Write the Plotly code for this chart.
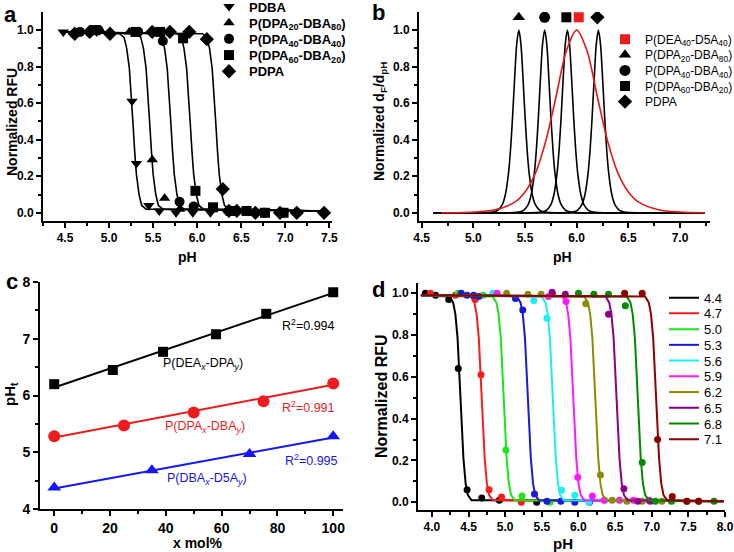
import plotly.graph_objects as go

W, H = 734, 552
FONT = "Arial, Liberation Sans, sans-serif"

# ---------------- Panel a : normalized RFU vs pH ----------------
a_names = ["PDBA", "P(DPA<sub>20</sub>-DBA<sub>80</sub>)", "P(DPA<sub>40</sub>-DBA<sub>40</sub>)",
           "P(DPA<sub>60</sub>-DBA<sub>20</sub>)", "PDPA"]
a_symbols = ["triangle-down", "triangle-up", "circle", "square", "diamond"]

a_pdba_x = [4.48, 4.86, 5.26, 5.31, 5.45, 5.57, 5.76, 5.95, 6.15]
a_pdba_y = [0.99, 0.99, 0.61, 0.27, 0.04, 0.01, 0.0, 0.0, 0.0]
a_dpa20_x = [4.90, 5.23, 5.49, 5.63, 5.80, 6.36]
a_dpa20_y = [1.0, 0.99, 0.29, 0.08, 0.02, 0.01]
a_dpa40_x = [4.67, 4.88, 5.33, 5.61, 5.80, 5.96, 6.36, 6.76, 6.98]
a_dpa40_y = [0.99, 1.0, 0.99, 0.94, 0.06, 0.035, 0.01, 0.0, 0.0]
a_dpa60_x = [4.84, 5.30, 5.58, 5.84, 5.98, 6.18, 6.38, 6.56, 6.77, 6.98]
a_dpa60_y = [1.0, 0.99, 0.99, 0.955, 0.12, 0.03, 0.01, 0.01, 0.0, 0.0]
a_pdpa_x = [4.61, 4.78, 5.01, 5.49, 5.69, 5.91, 6.11, 6.29, 6.36, 6.45, 6.66, 6.94, 7.13, 7.44]
a_pdpa_y = [0.98, 0.99, 0.98, 0.99, 0.99, 0.99, 0.95, 0.13, 0.01, 0.01, 0.0, 0.0, 0.0, 0.0]

# fitted sigmoid curves
a_fit_y = [0.99, 0.98, 0.96, 0.90, 0.79, 0.66, 0.50, 0.34, 0.21, 0.10, 0.04, 0.02, 0.01]
a_fit_pdba_x = [4.45, 5.12, 5.17, 5.20, 5.23, 5.25, 5.27, 5.29, 5.31, 5.34, 5.37, 5.42, 7.45]
a_fit_dpa20_x = [4.45, 5.31, 5.36, 5.39, 5.42, 5.44, 5.46, 5.48, 5.50, 5.53, 5.56, 5.61, 7.45]
a_fit_dpa40_x = [4.45, 5.55, 5.60, 5.63, 5.66, 5.68, 5.70, 5.72, 5.74, 5.77, 5.80, 5.85, 7.45]
a_fit_dpa60_x = [4.45, 5.77, 5.82, 5.85, 5.88, 5.90, 5.92, 5.94, 5.96, 5.99, 6.02, 6.07, 7.45]
a_fit_pdpa_x = [4.45, 6.06, 6.11, 6.14, 6.17, 6.19, 6.21, 6.23, 6.25, 6.28, 6.31, 6.36, 7.45]

# ---------------- Panel b : derivative peaks ----------------
b_names = ["P(DEA<sub>40</sub>-D5A<sub>40</sub>)", "P(DPA<sub>20</sub>-DBA<sub>80</sub>)",
           "P(DPA<sub>40</sub>-DBA<sub>40</sub>)", "P(DPA<sub>60</sub>-DBA<sub>20</sub>)", "PDPA"]
b_symbols = ["square", "triangle-up", "circle", "square", "diamond"]
b_colors = ["#ee1c1c", "black", "black", "black", "black"]
b_marker_x = [6.02, 5.44, 5.69, 5.90, 6.20]
b_marker_y = [1.07, 1.07, 1.07, 1.07, 1.07]

b_peak_y = [0, 0.001, 0.004, 0.015, 0.044, 0.10, 0.216, 0.348, 0.53, 0.742, 0.926, 1.0,
            0.926, 0.742, 0.53, 0.348, 0.216, 0.10, 0.044, 0.015, 0.004, 0.001, 0]
b_peak_dpa20_x = [4.61, 5.14, 5.19, 5.24, 5.28, 5.31, 5.34, 5.36, 5.38, 5.40, 5.42, 5.44,
                  5.46, 5.48, 5.50, 5.52, 5.54, 5.57, 5.60, 5.64, 5.69, 5.74, 7.24]
b_peak_dpa40_x = [4.61, 5.39, 5.44, 5.49, 5.53, 5.56, 5.59, 5.61, 5.63, 5.65, 5.67, 5.69,
                  5.71, 5.73, 5.75, 5.77, 5.79, 5.82, 5.85, 5.89, 5.94, 5.99, 7.24]
b_peak_dpa60_x = [4.61, 5.61, 5.66, 5.71, 5.75, 5.78, 5.81, 5.83, 5.85, 5.87, 5.89, 5.91,
                  5.93, 5.95, 5.97, 5.99, 6.01, 6.04, 6.07, 6.11, 6.16, 6.21, 7.24]
b_peak_pdpa_x = [4.61, 5.91, 5.96, 6.01, 6.05, 6.08, 6.11, 6.13, 6.15, 6.17, 6.19, 6.21,
                 6.23, 6.25, 6.27, 6.29, 6.31, 6.34, 6.37, 6.41, 6.46, 6.51, 7.24]
b_red_x = [4.69, 4.90, 5.20, 5.40, 5.50, 5.60, 5.70, 5.80, 5.90, 6.00, 6.10, 6.20, 6.30,
           6.40, 6.50, 6.60, 6.80, 7.00, 7.24]
b_red_y = [0, 0.001, 0.015, 0.058, 0.114, 0.216, 0.39, 0.635, 0.887, 1.0, 0.887, 0.635,
           0.39, 0.216, 0.114, 0.058, 0.015, 0.004, 0]

# ---------------- Panel c : pHt vs composition ----------------
c_dea_x = [0, 21, 39, 58, 76, 100]
c_dea_y = [6.20, 6.45, 6.77, 7.08, 7.44, 7.82]
c_dpa_x = [0, 25, 50, 75, 100]
c_dpa_y = [5.28, 5.47, 5.70, 5.90, 6.21]
c_dba_x = [0, 35, 70, 100]
c_dba_y = [4.38, 4.68, 4.97, 5.28]
c_fit_x = [0, 100]
c_fit_dea_y = [6.14, 7.81]
c_fit_dpa_y = [5.26, 6.19]
c_fit_dba_y = [4.36, 5.26]

# ---------------- Panel d : 10 sensors ----------------
d_labels = ["4.4", "4.7", "5.0", "5.3", "5.6", "5.9", "6.2", "6.5", "6.8", "7.1"]
d_colors = ["#000000", "#ff1a1a", "#19e619", "#1a1ad9", "#19f0f0", "#ff19ff",
            "#8c8c00", "#8c008c", "#008c00", "#8c0000"]
d_pts_x = [
    [3.91, 4.05, 4.23, 4.36, 4.48, 4.68, 4.92, 5.43],
    [3.98, 4.32, 4.59, 4.67, 4.78, 4.95, 5.22],
    [4.36, 4.70, 5.01, 5.23, 5.61],
    [4.40, 4.48, 4.57, 4.64, 5.14, 5.24, 5.40, 5.57, 5.76, 5.95, 6.15],
    [4.83, 5.39, 5.57, 5.77, 5.95, 6.14, 6.36],
    [4.89, 5.59, 5.83, 5.99, 6.19, 6.35, 6.56, 6.75, 6.96],
    [5.02, 5.31, 5.49, 5.65, 6.10, 6.30, 6.46, 6.66, 6.87, 7.14],
    [5.64, 5.82, 6.41, 6.62, 6.81, 6.98],
    [6.00, 6.21, 6.41, 6.64, 6.87, 7.05, 7.27, 7.48, 7.64, 7.85],
    [6.63, 6.87, 7.08, 7.28, 7.48, 7.64],
]
d_pts_y = [
    [1.0, 0.99, 0.97, 0.64, 0.06, 0.02, 0.01, 0.0],
    [1.0, 0.99, 0.97, 0.61, 0.06, 0.025, 0.0],
    [1.0, 0.99, 0.25, 0.03, 0.0],
    [1.0, 0.99, 0.99, 0.985, 0.975, 0.92, 0.04, 0.005, 0.005, 0.0, 0.0],
    [1.0, 0.965, 0.88, 0.057, 0.033, 0.0, 0.01],
    [1.0, 0.985, 0.96, 0.12, 0.03, 0.01, 0.01, 0.01, 0.01],
    [1.0, 0.995, 0.995, 0.995, 0.95, 0.13, 0.01, 0.005, 0.005, 0.005],
    [1.005, 0.995, 0.90, 0.065, 0.005, 0.005],
    [1.0, 0.995, 0.995, 0.94, 0.19, 0.005, 0.005, 0.005, 0.005, 0.005],
    [1.0, 1.0, 0.30, 0.027, 0.005, 0.005],
]
d_fit_y = [0.99, 0.985, 0.955, 0.90, 0.785, 0.655, 0.50, 0.34, 0.21, 0.09, 0.035, 0.01, 0.005]
d_fit_x = [
    [3.85, 4.24, 4.29, 4.32, 4.35, 4.37, 4.39, 4.41, 4.43, 4.46, 4.49, 4.54, 7.98],
    [3.85, 4.53, 4.58, 4.61, 4.64, 4.66, 4.68, 4.70, 4.72, 4.75, 4.78, 4.83, 7.98],
    [3.85, 4.83, 4.88, 4.91, 4.94, 4.96, 4.98, 5.00, 5.02, 5.05, 5.08, 5.13, 7.98],
    [3.85, 5.16, 5.21, 5.24, 5.27, 5.29, 5.31, 5.33, 5.35, 5.38, 5.41, 5.46, 7.98],
    [3.85, 5.50, 5.55, 5.58, 5.61, 5.63, 5.65, 5.67, 5.69, 5.72, 5.75, 5.80, 7.98],
    [3.85, 5.78, 5.83, 5.86, 5.89, 5.91, 5.93, 5.95, 5.97, 6.00, 6.03, 6.08, 7.98],
    [3.85, 6.08, 6.13, 6.16, 6.19, 6.21, 6.23, 6.25, 6.27, 6.30, 6.33, 6.38, 7.98],
    [3.85, 6.37, 6.42, 6.45, 6.48, 6.50, 6.52, 6.54, 6.56, 6.59, 6.62, 6.67, 7.98],
    [3.85, 6.66, 6.71, 6.74, 6.77, 6.79, 6.81, 6.83, 6.85, 6.88, 6.91, 6.96, 7.98],
    [3.85, 6.91, 6.96, 6.99, 7.02, 7.04, 7.06, 7.08, 7.10, 7.13, 7.16, 7.21, 7.98],
]

# legend entry rows (pixel rows of each legend entry)
a_legend_rows = [6.5, 22.7, 38.9, 55.1, 71.3]
b_legend_rows = [39.2, 54.8, 70.4, 86.0, 101.6]
d_legend_rows = [297.7, 313.4, 329.2, 344.9, 360.6, 376.4, 392.1, 407.8, 423.6, 439.3]

# ---------------------------------------------------------------
fig = go.Figure()
legend_layout = {}
leg_counter = [0]


def new_legend(left_px, row_px, font):
    leg_counter[0] += 1
    k = leg_counter[0]
    lid = "legend" if k == 1 else "legend%d" % k
    legend_layout[lid] = dict(x=left_px / W, y=1 - row_px / H, xanchor="left", yanchor="middle",
                              bgcolor="rgba(0,0,0,0)", borderwidth=0, font=font,
                              tracegroupgap=0, itemwidth=30)
    return lid


font_a = dict(family=FONT, size=13, color="black", weight="bold")
font_b = dict(family=FONT, size=12, color="black")
font_d = dict(family=FONT, size=13, color="black")

# Panel a
a_pts = [(a_pdba_x, a_pdba_y), (a_dpa20_x, a_dpa20_y), (a_dpa40_x, a_dpa40_y),
         (a_dpa60_x, a_dpa60_y), (a_pdpa_x, a_pdpa_y)]
a_fits = [a_fit_pdba_x, a_fit_dpa20_x, a_fit_dpa40_x, a_fit_dpa60_x, a_fit_pdpa_x]
for fx in a_fits:
    fig.add_trace(go.Scatter(x=fx, y=a_fit_y, mode="lines", line=dict(color="black", width=1.6),
                             xaxis="x", yaxis="y", showlegend=False, hoverinfo="skip"))
for i, ((px, py), nm, sym) in enumerate(zip(a_pts, a_names, a_symbols)):
    lid = new_legend(209, a_legend_rows[i], font_a)
    fig.add_trace(go.Scatter(x=px, y=py, mode="markers", name=nm,
                             marker=dict(symbol=sym, size=10 if sym != "diamond" else 11, color="black"),
                             xaxis="x", yaxis="y", legend=lid))

# Panel b
for bx in [b_peak_dpa20_x, b_peak_dpa40_x, b_peak_dpa60_x, b_peak_pdpa_x]:
    fig.add_trace(go.Scatter(x=bx, y=b_peak_y, mode="lines",
                             line=dict(color="black", width=1.6, shape="spline", smoothing=0.8),
                             xaxis="x2", yaxis="y2", showlegend=False, hoverinfo="skip"))
fig.add_trace(go.Scatter(x=b_red_x, y=b_red_y, mode="lines",
                         line=dict(color="#e41a1a", width=1.6, shape="spline", smoothing=0.8),
                         xaxis="x2", yaxis="y2", showlegend=False, hoverinfo="skip"))
for i in range(5):
    lid = new_legend(605, b_legend_rows[i], font_b)
    fig.add_trace(go.Scatter(x=[b_marker_x[i]], y=[b_marker_y[i]], mode="markers", name=b_names[i],
                             marker=dict(symbol=b_symbols[i], size=11 if b_symbols[i] != "square" else 10,
                                         color=b_colors[i]),
                             xaxis="x2", yaxis="y2", legend=lid))

# Panel c
c_sets = [(c_dea_x, c_dea_y, c_fit_dea_y, "black", "square", 10),
          (c_dpa_x, c_dpa_y, c_fit_dpa_y, "#ee1c1c", "circle", 12),
          (c_dba_x, c_dba_y, c_fit_dba_y, "#1414ff", "triangle-up", 12)]
for cx, cy, fy, col, sym, sz in c_sets:
    fig.add_trace(go.Scatter(x=c_fit_x, y=fy, mode="lines", line=dict(color=col, width=2),
                             xaxis="x3", yaxis="y3", showlegend=False, hoverinfo="skip"))
    fig.add_trace(go.Scatter(x=cx, y=cy, mode="markers", marker=dict(symbol=sym, size=sz, color=col),
                             xaxis="x3", yaxis="y3", showlegend=False))

# Panel d
for i in range(10):
    lid = new_legend(664, d_legend_rows[i], font_d)
    fig.add_trace(go.Scatter(x=d_fit_x[i], y=d_fit_y, mode="lines", name=d_labels[i],
                             line=dict(color=d_colors[i], width=2),
                             xaxis="x4", yaxis="y4", legend=lid))
    fig.add_trace(go.Scatter(x=d_pts_x[i], y=d_pts_y[i], mode="markers",
                             marker=dict(symbol="circle", size=7, color=d_colors[i]),
                             xaxis="x4", yaxis="y4", showlegend=False))


def dom_x(x0, x1):
    return [x0 / W, x1 / W]


def dom_y(ytop, ybot):
    return [1 - ybot / H, 1 - ytop / H]


tickfont = dict(family=FONT, size=12, color="black", weight="bold")


def ax(domain, rng, tick0, dtick, minor, anchor, fmt=None, tf=tickfont):
    d = dict(domain=domain, range=rng, anchor=anchor, tick0=tick0, dtick=dtick,
             showline=True, linecolor="black", linewidth=2, ticks="outside", ticklen=5,
             tickwidth=1.5, tickcolor="black", showgrid=False, zeroline=False,
             tickfont=tf, minor=dict(dtick=minor, tick0=tick0, ticks="outside", ticklen=3,
                                      tickwidth=1.5, tickcolor="black", showgrid=False))
    if fmt:
        d["tickformat"] = fmt
    return d


tickfont_c = dict(family=FONT, size=14, color="black", weight="bold")

fig.update_layout(
    width=W, height=H, margin=dict(l=0, r=0, t=0, b=0, autoexpand=False),
    paper_bgcolor="white", plot_bgcolor="white",
    font=dict(family=FONT, color="black"),
    xaxis=ax(dom_x(43, 332), [4.25, 7.53], 4.5, 0.5, 0.25, "y", ".1f"),
    yaxis=ax(dom_y(12, 221), [-0.045, 1.099], 0, 0.2, 0.1, "x", ".1f"),
    xaxis2=ax(dom_x(419, 710), [4.474, 7.29], 4.5, 0.5, 0.25, "y2", ".1f"),
    yaxis2=ax(dom_y(12, 221), [-0.045, 1.099], 0, 0.2, 0.1, "x2", ".1f"),
    xaxis3=ax(dom_x(40, 343), [-5.1, 103.5], 0, 20, 10, "y3", None, tickfont_c),
    yaxis3=ax(dom_y(282, 509), [3.999, 8.001], 4, 1, 0.5, "x3", None, tickfont_c),
    xaxis4=ax(dom_x(418, 725), [3.81, 8.0], 4.0, 0.5, 0.25, "y4", ".1f"),
    yaxis4=ax(dom_y(283, 510), [-0.037, 1.049], 0, 0.2, 0.1, "x4", ".1f"),
)
fig.update_layout(legend_layout)


def ann(text, X, Y, size, bold=True, angle=0, color="black"):
    fig.add_annotation(text=text, x=X / W, y=1 - Y / H, xref="paper", yref="paper",
                       showarrow=False, textangle=angle, xanchor="center", yanchor="middle",
                       font=dict(family=FONT, size=size, color=color, weight="bold" if bold else "normal"))


# panel letters
ann("a", 10, 14, 22)
ann("b", 378, 13, 22)
ann("c", 12, 281, 22)
ann("d", 378, 289, 22)
# axis titles
ann("Normalized RFU", 12, 122, 14, angle=-90)
ann("pH", 187, 257, 14)
ann("Normalized d<sub>F</sub>/d<sub>pH</sub>", 380, 122, 14, angle=-90)
ann("pH", 562, 257, 14)
ann("pH<sub>t</sub>", 10, 394, 15, angle=-90)
ann("x mol%", 198, 543, 14)
ann("Normalized RFU", 381, 396, 16, angle=-90)
ann("pH", 563, 543, 15)

# panel c labels (data coordinates)
c_texts = [("R<sup>2</sup>=0.994", 91.0, 7.25, "black"),
           ("P(DEA<sub><i>x</i></sub>-DPA<sub><i>y</i></sub>)", 53.4, 6.56, "black"),
           ("R<sup>2</sup>=0.991", 91.0, 5.79, "#ee1c1c"),
           ("P(DPA<sub><i>x</i></sub>-DBA<sub><i>y</i></sub>)", 54.0, 5.44, "#ee1c1c"),
           ("R<sup>2</sup>=0.995", 92.3, 4.87, "#1414ff"),
           ("P(DBA<sub><i>x</i></sub>-D5A<sub><i>y</i></sub>)", 54.6, 4.52, "#1414ff")]
for t, xx, yy, col in c_texts:
    fig.add_annotation(text=t, x=xx, y=yy, xref="x3", yref="y3", showarrow=False,
                       font=dict(family=FONT, size=12.5, color=col))

fig.write_html("out.html", config={"displayModeBar": False},
               post_script="document.body.style.margin='0px';")
